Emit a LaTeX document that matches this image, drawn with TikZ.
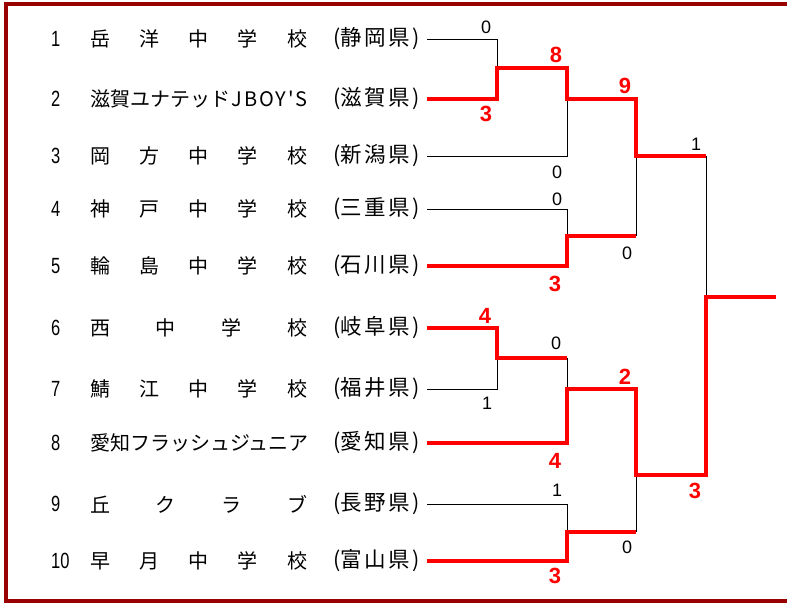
\documentclass[tikz,border=0pt]{standalone}
\usepackage{fontspec}
\setmainfont{Liberation Sans}
\newfontfamily\jpfont{Noto Sans CJK JP}
\newfontfamily\seedfont[FakeStretch=0.75]{Liberation Sans}
\definecolor{winred}{RGB}{255,0,0}
\definecolor{framered}{RGB}{153,0,0}
\newcommand\teamspread[1]{\makebox[217pt][s]{#1}}
\newcommand\prefspread[3]{\makebox[87pt][s]{(#1\hfill #2\hfill #3\hfill )}}
\tikzset{
  seed/.style={anchor=west, inner sep=0pt, font=\seedfont\fontsize{22}{22}\selectfont},
  team/.style={anchor=west, inner sep=0pt, font=\jpfont\fontsize{20}{20}\selectfont},
  pref/.style={anchor=west, inner sep=0pt, font=\jpfont\fontsize{21.5}{21.5}\selectfont},
  losescore/.style={inner sep=0pt, font=\fontsize{18}{18}\selectfont},
  winscore/.style={inner sep=0pt, text=winred, font=\bfseries\fontsize{22}{22}\selectfont},
  loseline/.style={line width=1pt},
  winline/.style={winred, line width=4pt},
}

\begin{document}
\begin{tikzpicture}[x=1pt, y=-1pt]
\useasboundingbox (0,0) rectangle (787,603);
\draw[framered, line width=4pt] (5.5,4) rectangle (800,601); % frame, right side off the page

% seeds
\node[seed] (n1) at (51,39)  {1};
\node[seed] (n2) at (51,99)  {2};
\node[seed] (n3) at (51,156) {3};
\node[seed] (n4) at (51,209) {4};
\node[seed] (n5) at (51,266) {5};
\node[seed] (n6) at (51,328) {6};
\node[seed] (n7) at (51,389) {7};
\node[seed] (n8) at (51,443) {8};
\node[seed] (n9) at (51,504) {9};
\node[seed] (n10) at (51,561) {10};

% teams
\node[team] (s1) at (90,39)  {\teamspread{岳\hfill 洋\hfill 中\hfill 学\hfill 校}};
\node[team] (s2) at (90,99)  {\teamspread{滋賀ユナテッド\hfill J\hfill B\hfill O\hfill Y\hfill \char"27\hfill S}};
\node[team] (s3) at (90,156) {\teamspread{岡\hfill 方\hfill 中\hfill 学\hfill 校}};
\node[team] (s4) at (90,209) {\teamspread{神\hfill 戸\hfill 中\hfill 学\hfill 校}};
\node[team] (s5) at (90,266) {\teamspread{輪\hfill 島\hfill 中\hfill 学\hfill 校}};
\node[team] (s6) at (90,328) {\teamspread{西\hfill 中\hfill 学\hfill 校}};
\node[team] (s7) at (90,389) {\teamspread{鯖\hfill 江\hfill 中\hfill 学\hfill 校}};
\node[team] (s8) at (90,443) {愛知フラッシュジュニア};
\node[team] (s9) at (90,504) {\teamspread{丘\hfill ク\hfill ラ\hfill ブ}};
\node[team] (s10) at (90,561) {\teamspread{早\hfill 月\hfill 中\hfill 学\hfill 校}};

% prefectures
\node[pref] (p1) at (333,39)  {\prefspread{静}{岡}{県}};
\node[pref] (p2) at (333,99)  {\prefspread{滋}{賀}{県}};
\node[pref] (p3) at (333,156) {\prefspread{新}{潟}{県}};
\node[pref] (p4) at (333,209) {\prefspread{三}{重}{県}};
\node[pref] (p5) at (333,266) {\prefspread{石}{川}{県}};
\node[pref] (p6) at (333,328) {\prefspread{岐}{阜}{県}};
\node[pref] (p7) at (333,389) {\prefspread{福}{井}{県}};
\node[pref] (p8) at (333,443) {\prefspread{愛}{知}{県}};
\node[pref] (p9) at (333,504) {\prefspread{長}{野}{県}};
\node[pref] (p10) at (333,561) {\prefspread{富}{山}{県}};

% bracket points
\coordinate (t1) at (427,39);
\coordinate (t2) at (427,99);
\coordinate (t3) at (427,156);
\coordinate (t4) at (427,209);
\coordinate (t5) at (427,266);
\coordinate (t6) at (427,328);
\coordinate (t7) at (427,389);
\coordinate (t8) at (427,443);
\coordinate (t9) at (427,504);
\coordinate (t10) at (427,561);
\coordinate (A) at (497,68);  % 1 vs 2
\coordinate (B) at (567,99);  % A vs 3
\coordinate (C) at (567,236); % 4 vs 5
\coordinate (D) at (636,156); % B vs C
\coordinate (E) at (497,358); % 6 vs 7
\coordinate (F) at (567,389); % E vs 8
\coordinate (G) at (567,532); % 9 vs 10
\coordinate (H) at (636,475); % F vs G
\coordinate (Fin) at (706,297); % final
\coordinate (end) at (776,297);

% losing lines
\draw[loseline]
(t1) -| (A)
(t3) -| (B)
(t4) -| (C)
(t7) -| (E)
(t9) -| (G)
(E -| F) -- (F)
(C -| D) -- (D)
(G -| H) -- (H)
(D -| Fin) -- (Fin);

% winning lines
\draw[winline] (t2) -| (A) -| (B) -| (D) -- (D -| Fin);
\draw[winline] (t5) -| (C) -- (C -| D);
\draw[winline] (t6) -| (E) -- (E -| F);
\draw[winline] (t8) -| (F) -| (H) -| (Fin) -- (end);
\draw[winline] (t10) -| (G) -- (G -| H);

% scores
\node[losescore] (a1) at (486,27)  {0};
\node[winscore]  (a2) at (486,114) {3};
\node[winscore]  (b1) at (556,55)  {8};
\node[losescore] (b2) at (557,172) {0};
\node[losescore] (c1) at (557,199) {0};
\node[winscore]  (c2) at (555,284) {3};
\node[winscore]  (d1) at (625,86)  {9};
\node[losescore] (d2) at (627,253) {0};
\node[winscore]  (e1) at (485,316) {4};
\node[losescore] (e2) at (487,403) {1};
\node[losescore] (f1) at (556,343) {0};
\node[winscore]  (f2) at (555,461) {4};
\node[losescore] (g1) at (557,490) {1};
\node[winscore]  (g2) at (555,576) {3};
\node[winscore]  (h1) at (625,377) {2};
\node[losescore] (h2) at (627,547) {0};
\node[losescore] (x1) at (696,144) {1};
\node[winscore]  (x2) at (695,491) {3};

\end{tikzpicture}
\end{document}
